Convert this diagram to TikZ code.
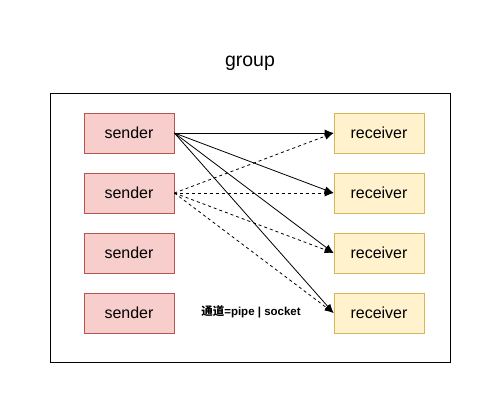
\documentclass[tikz,border=0pt]{standalone}
\usepackage{fontspec}
\setmainfont{Liberation Sans}
\newfontfamily\cjk{Noto Sans CJK SC}
\usetikzlibrary{arrows.meta}
\begin{document}
\begin{tikzpicture}[x=1pt,y=-1pt,
  sbox/.style={draw=sendstroke,fill=sendfill,minimum width=90pt,minimum height=40pt,inner sep=0pt,font=\fontsize{16}{18}\selectfont,line width=0.8pt},
  rbox/.style={draw=recvstroke,fill=recvfill,minimum width=90pt,minimum height=40pt,inner sep=0pt,font=\fontsize{16}{18}\selectfont,line width=0.8pt},
  conn/.style={-{Latex[length=9pt,width=7pt]},line width=0.8pt}
]
\definecolor{sendfill}{HTML}{F8CECC}
\definecolor{sendstroke}{HTML}{B85450}
\definecolor{recvfill}{HTML}{FFF2CC}
\definecolor{recvstroke}{HTML}{D6B656}
\useasboundingbox (0,0) rectangle (501,413);
\node[font=\fontsize{19.5}{22}\selectfont] (title) at (250,63) {group};
\node[draw,line width=0.8pt,minimum width=400pt,minimum height=269pt,inner sep=0pt] (group) at (250,227.5) {};
\node[sbox] (s1) at (129,133) {sender};
\node[sbox] (s2) at (129,193) {sender};
\node[sbox] (s3) at (129,253) {sender};
\node[sbox] (s4) at (129,313) {sender};
\node[rbox] (r1) at (379,133) {receiver};
\node[rbox] (r2) at (379,193) {receiver};
\node[rbox] (r3) at (379,253) {receiver};
\node[rbox] (r4) at (379,313) {receiver};
\node[font=\bfseries\fontsize{11.5}{13}\selectfont] (lbl) at (251,312) {{\cjk\bfseries 通道}=pipe | socket};
\foreach \r in {r1,r2,r3,r4} {
  \draw[conn] (s1.east) -- (\r.west);
  \draw[conn,dashed,dash pattern=on 3pt off 3pt] (s2.east) -- (\r.west);
}
\end{tikzpicture}
\end{document}
